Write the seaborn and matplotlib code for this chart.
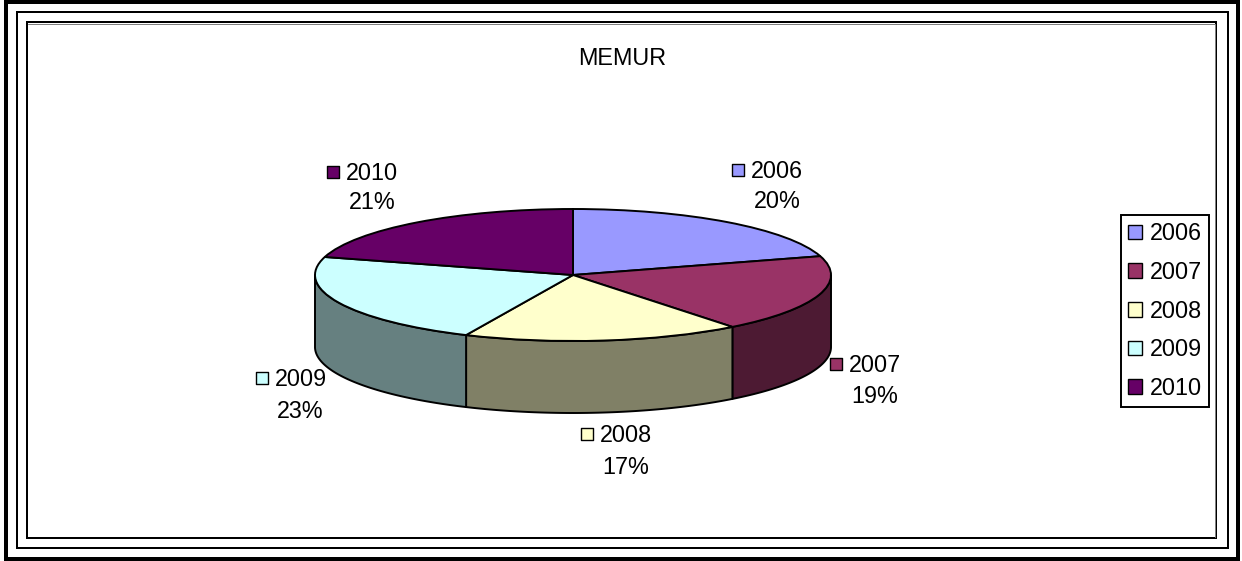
import matplotlib
matplotlib.use("Agg")
import matplotlib.pyplot as plt
from matplotlib.colors import to_rgb
from matplotlib.patches import Patch, Rectangle
import numpy as np
import seaborn as sns

# Chart data
YEARS = ["2006", "2007", "2008", "2009", "2010"]
SHARES = [20.4, 19.0, 17.4, 22.6, 20.6]
COLORS = ["#9999FF", "#993366", "#FFFFCC", "#CCFFFF", "#660066"]
TITLE = "MEMUR"

sns.set_style("white")
plt.rcParams["font.family"] = ["Liberation Sans", "DejaVu Sans"]
plt.rcParams["text.color"] = "black"

WIDTH, HEIGHT = 1242, 561
FONT_SIZE = 16.8
# Ellipse of the pie top in pixels
CENTER_X, CENTER_Y, RADIUS_X, RADIUS_Y, DEPTH = 573, 275, 258, 66, 72
# Where each outside label goes: square centre, then centre of the percent text
LABEL_SQUARES = [(738, 170), (836, 364), (587, 434), (262, 378), (333, 172)]
LABEL_PERCENTS = [(777, 201), (875, 396), (626, 467), (300, 411), (372, 202)]


def _draw_frames(ax):
    # Three nested borders of the sheet
    for x0, y0, x1, y1, lw in [
        (6, 1.5, 1238, 558.5, 4),
        (17, 12, 1228, 548, 2),
        (27, 22, 1216, 538, 2),
    ]:
        ax.add_patch(Rectangle((x0, y0), x1 - x0, y1 - y0, fill=False,
                               edgecolor="black", linewidth=lw * 0.72))
    ax.plot([28, 1215, 1215], [24, 24, 537], color="#808080", lw=0.72)


def _draw_pie(ax):
    bounds = 90 - 360 * np.cumsum([0] + SHARES) / sum(SHARES)
    depth = DEPTH / RADIUS_Y

    # Side walls of the front half, darker than the top
    for i, color in enumerate(COLORS):
        high = min(bounds[i], 0)
        low = max(bounds[i + 1], -180)
        if high <= low:
            continue
        t = np.radians(np.linspace(high, low, 80))
        xs = np.concatenate([np.cos(t), np.cos(t[::-1])])
        ys = np.concatenate([np.sin(t), np.sin(t[::-1]) - depth])
        ax.fill(xs, ys, facecolor=np.array(to_rgb(color)) * 0.5,
                edgecolor="black", linewidth=1.4, joinstyle="round")

    ax.pie(SHARES, colors=COLORS, startangle=90, counterclock=False,
           wedgeprops={"edgecolor": "black", "linewidth": 1.4})
    ax.set_aspect("auto")
    ax.set_xlim(-1.1, 1.1)
    ax.set_ylim(-1.1 - depth, 1.1)


def _draw_labels(ax):
    total = sum(SHARES)
    for year, share, color, square, percent in zip(
        YEARS, SHARES, COLORS, LABEL_SQUARES, LABEL_PERCENTS
    ):
        ax.scatter(*square, marker="s", s=85, facecolor=color,
                   edgecolor="black", linewidth=1.0, zorder=3)
        ax.text(square[0] + 13, square[1] + 1.5, year, ha="left", va="center",
                fontsize=FONT_SIZE, color="black")
        ax.text(*percent, f"{share / total:.0%}", ha="center", va="center",
                fontsize=FONT_SIZE, color="black")


def main():
    fig = plt.figure(figsize=(WIDTH / 100, HEIGHT / 100), dpi=100, facecolor="white")

    # Pie axes, sized so that one data unit is one radius in pixels
    left = CENTER_X - 1.1 * RADIUS_X
    top = CENTER_Y - 1.1 * RADIUS_Y
    pie_width = 2.2 * RADIUS_X
    pie_height = 2.2 * RADIUS_Y + DEPTH
    pie_ax = fig.add_axes([
        left / WIDTH,
        1 - (top + pie_height) / HEIGHT,
        pie_width / WIDTH,
        pie_height / HEIGHT,
    ])
    _draw_pie(pie_ax)

    # Overlay axes in pixels for borders, texts and legend
    ax = fig.add_axes([0, 0, 1, 1], facecolor="none")
    ax.set_xlim(0, WIDTH)
    ax.set_ylim(HEIGHT, 0)
    ax.axis("off")

    _draw_frames(ax)
    _draw_labels(ax)
    ax.text(622, 58, TITLE, ha="center", va="center", fontsize=FONT_SIZE, color="black")

    handles = [Patch(facecolor=c, edgecolor="black", linewidth=1.0) for c in COLORS]
    legend = ax.legend(
        handles, YEARS,
        loc="center",
        bbox_to_anchor=(1165 / WIDTH, 1 - 311 / HEIGHT),
        bbox_transform=fig.transFigure,
        fontsize=FONT_SIZE,
        labelcolor="black",
        frameon=True,
        fancybox=False,
        edgecolor="black",
        framealpha=1,
        handlelength=0.6,
        handleheight=0.6,
        handletextpad=0.3,
        labelspacing=0.67,
        borderpad=0.3,
        borderaxespad=0,
    )
    legend.get_frame().set_linewidth(1.4)

    fig.savefig("out.png", dpi=100)


if __name__ == "__main__":
    main()
